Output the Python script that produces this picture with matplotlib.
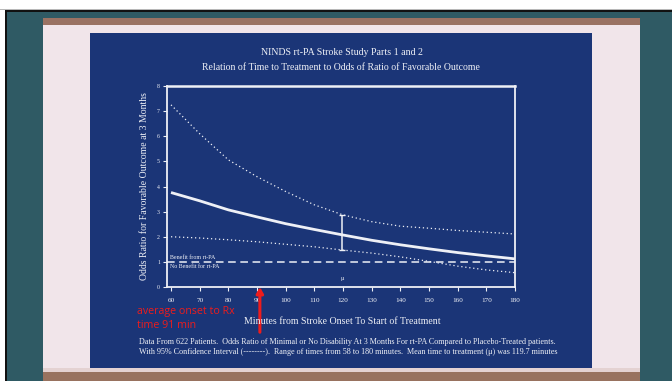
import matplotlib
matplotlib.use("Agg")
import matplotlib.pyplot as plt
from matplotlib.patches import Rectangle

# ---------------- data ----------------
minutes = [60, 70, 80, 90, 100, 110, 120, 130, 140, 150, 160, 170, 180]
odds_ratio = [3.76, 3.43, 3.07, 2.79, 2.52, 2.29, 2.07, 1.86, 1.68, 1.52, 1.37, 1.24, 1.12]
ci_upper = [7.25, 6.10, 5.06, 4.39, 3.80, 3.27, 2.87, 2.60, 2.42, 2.34, 2.25, 2.18, 2.11]
ci_lower = [2.00, 1.95, 1.88, 1.80, 1.70, 1.60, 1.47, 1.35, 1.20, 1.02, 0.83, 0.68, 0.57]
x_ticks = [60, 70, 80, 90, 100, 110, 120, 130, 140, 150, 160, 170, 180]
y_ticks = [0, 1, 2, 3, 4, 5, 6, 7, 8]
mean_time = 119.7
mean_ci = [1.47, 2.87]
avg_onset = 91

title1 = "NINDS rt-PA Stroke Study Parts 1 and 2"
title2 = "Relation of Time to Treatment to Odds of Ratio of Favorable Outcome"
xlabel = "Minutes from Stroke Onset To Start of Treatment"
ylabel = "Odds Ratio for Favorable Outcome at 3 Months"
foot1 = ("Data From 622 Patients.  Odds Ratio of Minimal or No Disability At 3 Months For rt-PA "
         "Compared to Placebo-Treated patients.")
foot2 = ("With 95% Confidence Interval (--------).  Range of times from 58 to 180 minutes.  "
         "Mean time to treatment (\u03bc) was 119.7 minutes")

W, H = 672, 381
fig = plt.figure(figsize=(W / 100, H / 100), dpi=100)

# ---------------- slide background ----------------
bg = fig.add_axes([0, 0, 1, 1], zorder=0)
bg.set_xlim(0, W)
bg.set_ylim(H, 0)
bg.axis("off")

def rect(x0, y0, x1, y1, color):
    bg.add_patch(Rectangle((x0, y0), x1 - x0, y1 - y0, color=color, lw=0))

rect(0, 0, W, H, "white")
rect(0, 9, W, 10, "#b8b8b8")
rect(5, 10, W, H, "#111111")
rect(7, 12, W, H, "#2f5a64")
rect(43, 18, 640, 25, "#9a7263")
rect(43, 25, 640, 371, "#f1e5ea")
rect(43, 368, 640, 372, "#e4d2d2")
rect(43, 372, 640, H, "#98725f")
rect(90, 33, 592, 368, "#1b3577")

# ---------------- chart ----------------
white = "#eef0f6"
serif = "Liberation Serif"
left, right, top, bottom = 167, 515, 86, 287
ax = fig.add_axes([left / W, 1 - bottom / H, (right - left) / W, (bottom - top) / H], zorder=2)
ax.set_facecolor("none")
ax.set_xlim(58.6, 180)
ax.set_ylim(0, 8)

ax.plot(minutes, odds_ratio, color=white, lw=2.0, solid_capstyle="butt")
ax.plot(minutes, ci_upper, color=white, lw=0.9, ls=(0, (1, 2.2)))
ax.plot(minutes, ci_lower, color=white, lw=0.9, ls=(0, (1, 2.2)))
ax.axhline(1, color=white, lw=1.1, ls=(0, (5, 3)))
ax.errorbar([mean_time], [sum(mean_ci) / 2], yerr=[[sum(mean_ci) / 2 - mean_ci[0]], [mean_ci[1] - sum(mean_ci) / 2]],
            fmt="none", ecolor=white, elinewidth=1.1, capsize=2.5, capthick=1.0)
ax.text(mean_time, 0.25, "\u03bc", color=white, fontsize=4.8, ha="center", va="bottom", family=serif)
ax.text(59.5, 1.06, "Benefit from rt-PA", color=white, fontsize=4.3, ha="left", va="bottom", family=serif)
ax.text(59.5, 0.93, "No Benefit for rt-PA", color=white, fontsize=4.3, ha="left", va="top", family=serif)

for s in ax.spines.values():
    s.set_color(white)
    s.set_linewidth(1.3)
ax.spines["top"].set_linewidth(1.8)
ax.set_xticks(x_ticks)
ax.set_yticks(y_ticks)
ax.tick_params(axis="x", colors=white, length=3, width=0.8, labelsize=5.2, pad=5)
ax.tick_params(axis="y", colors=white, length=3, width=0.8, labelsize=4.2, pad=2)
for lab in ax.get_xticklabels() + ax.get_yticklabels():
    lab.set_family(serif)
ax.set_ylabel(ylabel, color=white, fontsize=7.0, family=serif, labelpad=6)

def ftext(x, y, s, **kw):
    fig.text(x / W, 1 - y / H, s, **kw)

ftext(342, 52.5, title1, color=white, fontsize=7.1, ha="center", va="center", family=serif)
ftext(341, 67, title2, color=white, fontsize=7.0, ha="center", va="center", family=serif)
ftext(342, 321.5, xlabel, color=white, fontsize=7.1, ha="center", va="center", family=serif)
ftext(139, 342.5, foot1, color=white, fontsize=5.9, ha="left", va="center", family=serif)
ftext(139, 352.5, foot2, color=white, fontsize=5.9, ha="left", va="center", family=serif)

# red annotation
red = "#ee1c1c"
ax.annotate("", xy=(avg_onset, 0), xytext=(avg_onset, -1.8), annotation_clip=False,
            arrowprops=dict(arrowstyle="-|>,head_length=0.35,head_width=0.2", color=red, lw=2.2,
                            shrinkA=0, shrinkB=0))
ftext(137, 311.5, "average onset to Rx", color=red, fontsize=7.7, ha="left", va="center", family="Open Sans")
ftext(137, 325.5, "time 91 min", color=red, fontsize=7.7, ha="left", va="center", family="Open Sans")

fig.savefig("out.png", dpi=100)
